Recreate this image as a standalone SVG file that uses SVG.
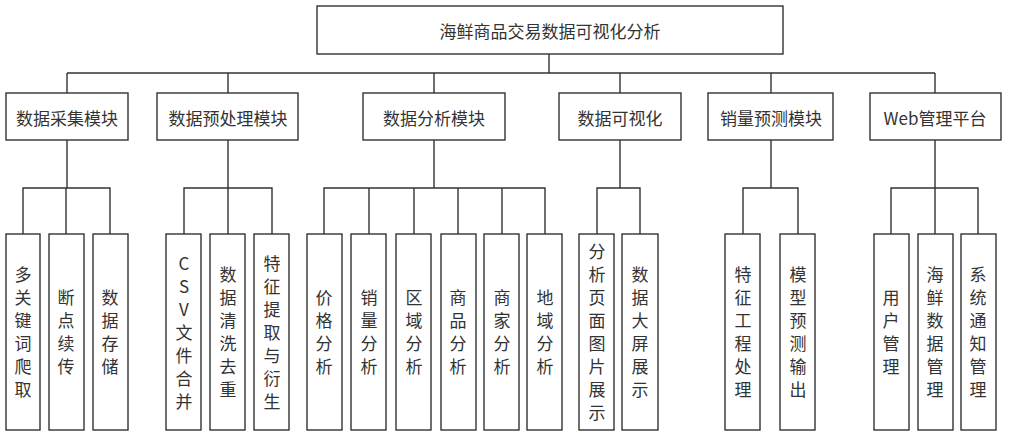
<svg xmlns="http://www.w3.org/2000/svg" width="1010" height="440" viewBox="0 0 1010 440">
<style>
rect{fill:#fff;stroke:#333;stroke-width:1.4}
text{font-family:"Noto Sans CJK SC","Noto Sans",sans-serif;fill:#333;font-size:17px;text-anchor:middle;dominant-baseline:central}
.v{font-size:17px}
#conn path{fill:none;stroke:#333;stroke-width:1.4}
</style>
<rect width="1010" height="440" style="fill:#fff;stroke:none"/>
<g id="conn">
<path d="M549 54V73M67 73H935M67 73V93M228 73V93M434 73V93M620 73V93M771 73V93M935 73V93"/>
<path d="M67 140V188M23 234V188H110V234M66 188V234"/>
<path d="M228 140V188M184 234V188H272V234M228 188V234"/>
<path d="M434 140V188M324 234V188H545V234M369 188V234M414 188V234M458 188V234M502 188V234"/>
<path d="M620 140V188M597 234V188H640V234"/>
<path d="M771 140V188M743 234V188H798V234"/>
<path d="M935 140V188M891 234V188H978V234M935 188V234"/>
</g>
<g id="root"><rect x="317" y="6" width="466" height="48"/><text x="550" y="30">海鲜商品交易数据可视化分析</text></g>
<g id="m1"><rect x="6" y="93" width="122" height="47"/><text x="67" y="117">数据采集模块</text></g>
<g id="m2"><rect x="157" y="93" width="141" height="47"/><text x="228" y="117">数据预处理模块</text></g>
<g id="m3"><rect x="363" y="93" width="142" height="47"/><text x="434" y="117">数据分析模块</text></g>
<g id="m4"><rect x="559" y="93" width="122" height="47"/><text x="620" y="117">数据可视化</text></g>
<g id="m5"><rect x="708" y="93" width="125" height="47"/><text x="771" y="117">销量预测模块</text></g>
<g id="m6"><rect x="870" y="93" width="131" height="47"/><text x="935" y="117">Web管理平台</text></g>
<g id="l1"><rect x="6" y="234" width="34" height="196"/><text class="v" x="23"><tspan x="23" y="273">多</tspan><tspan x="23" y="296">关</tspan><tspan x="23" y="319">键</tspan><tspan x="23" y="342">词</tspan><tspan x="23" y="365">爬</tspan><tspan x="23" y="388">取</tspan></text></g>
<g id="l2"><rect x="49" y="234" width="35" height="196"/><text class="v"><tspan x="66" y="296">断</tspan><tspan x="66" y="319">点</tspan><tspan x="66" y="342">续</tspan><tspan x="66" y="365">传</tspan></text></g>
<g id="l3"><rect x="93" y="234" width="35" height="196"/><text class="v"><tspan x="110" y="296">数</tspan><tspan x="110" y="319">据</tspan><tspan x="110" y="342">存</tspan><tspan x="110" y="365">储</tspan></text></g>
<g id="l4"><rect x="166" y="234" width="35" height="196"/><text class="v"><tspan x="184" y="262">C</tspan><tspan x="184" y="285">S</tspan><tspan x="184" y="308">V</tspan><tspan x="184" y="331">文</tspan><tspan x="184" y="354">件</tspan><tspan x="184" y="377">合</tspan><tspan x="184" y="400">并</tspan></text></g>
<g id="l5"><rect x="210" y="234" width="35" height="196"/><text class="v"><tspan x="228" y="273">数</tspan><tspan x="228" y="296">据</tspan><tspan x="228" y="319">清</tspan><tspan x="228" y="342">洗</tspan><tspan x="228" y="365">去</tspan><tspan x="228" y="388">重</tspan></text></g>
<g id="l6"><rect x="254" y="234" width="35" height="196"/><text class="v"><tspan x="272" y="262">特</tspan><tspan x="272" y="285">征</tspan><tspan x="272" y="308">提</tspan><tspan x="272" y="331">取</tspan><tspan x="272" y="354">与</tspan><tspan x="272" y="377">衍</tspan><tspan x="272" y="400">生</tspan></text></g>
<g id="l7"><rect x="307" y="234" width="35" height="196"/><text class="v"><tspan x="324" y="296">价</tspan><tspan x="324" y="319">格</tspan><tspan x="324" y="342">分</tspan><tspan x="324" y="365">析</tspan></text></g>
<g id="l8"><rect x="351" y="234" width="35" height="196"/><text class="v"><tspan x="369" y="296">销</tspan><tspan x="369" y="319">量</tspan><tspan x="369" y="342">分</tspan><tspan x="369" y="365">析</tspan></text></g>
<g id="l9"><rect x="396" y="234" width="35" height="196"/><text class="v"><tspan x="414" y="296">区</tspan><tspan x="414" y="319">域</tspan><tspan x="414" y="342">分</tspan><tspan x="414" y="365">析</tspan></text></g>
<g id="l10"><rect x="441" y="234" width="35" height="196"/><text class="v"><tspan x="458" y="296">商</tspan><tspan x="458" y="319">品</tspan><tspan x="458" y="342">分</tspan><tspan x="458" y="365">析</tspan></text></g>
<g id="l11"><rect x="484" y="234" width="35" height="196"/><text class="v"><tspan x="502" y="296">商</tspan><tspan x="502" y="319">家</tspan><tspan x="502" y="342">分</tspan><tspan x="502" y="365">析</tspan></text></g>
<g id="l12"><rect x="527" y="234" width="35" height="196"/><text class="v"><tspan x="545" y="296">地</tspan><tspan x="545" y="319">域</tspan><tspan x="545" y="342">分</tspan><tspan x="545" y="365">析</tspan></text></g>
<g id="l13"><rect x="579" y="234" width="35" height="196"/><text class="v"><tspan x="597" y="250">分</tspan><tspan x="597" y="273">析</tspan><tspan x="597" y="296">页</tspan><tspan x="597" y="319">面</tspan><tspan x="597" y="342">图</tspan><tspan x="597" y="365">片</tspan><tspan x="597" y="388">展</tspan><tspan x="597" y="411">示</tspan></text></g>
<g id="l14"><rect x="622" y="234" width="36" height="196"/><text class="v"><tspan x="640" y="273">数</tspan><tspan x="640" y="296">据</tspan><tspan x="640" y="319">大</tspan><tspan x="640" y="342">屏</tspan><tspan x="640" y="365">展</tspan><tspan x="640" y="388">示</tspan></text></g>
<g id="l15"><rect x="725" y="234" width="35" height="196"/><text class="v"><tspan x="743" y="273">特</tspan><tspan x="743" y="296">征</tspan><tspan x="743" y="319">工</tspan><tspan x="743" y="342">程</tspan><tspan x="743" y="365">处</tspan><tspan x="743" y="388">理</tspan></text></g>
<g id="l16"><rect x="780" y="234" width="35" height="196"/><text class="v"><tspan x="798" y="273">模</tspan><tspan x="798" y="296">型</tspan><tspan x="798" y="319">预</tspan><tspan x="798" y="342">测</tspan><tspan x="798" y="365">输</tspan><tspan x="798" y="388">出</tspan></text></g>
<g id="l17"><rect x="874" y="234" width="35" height="196"/><text class="v"><tspan x="891" y="296">用</tspan><tspan x="891" y="319">户</tspan><tspan x="891" y="342">管</tspan><tspan x="891" y="365">理</tspan></text></g>
<g id="l18"><rect x="918" y="234" width="35" height="196"/><text class="v"><tspan x="935" y="273">海</tspan><tspan x="935" y="296">鲜</tspan><tspan x="935" y="319">数</tspan><tspan x="935" y="342">据</tspan><tspan x="935" y="365">管</tspan><tspan x="935" y="388">理</tspan></text></g>
<g id="l19"><rect x="961" y="234" width="35" height="196"/><text class="v"><tspan x="978" y="273">系</tspan><tspan x="978" y="296">统</tspan><tspan x="978" y="319">通</tspan><tspan x="978" y="342">知</tspan><tspan x="978" y="365">管</tspan><tspan x="978" y="388">理</tspan></text></g>
</svg>
